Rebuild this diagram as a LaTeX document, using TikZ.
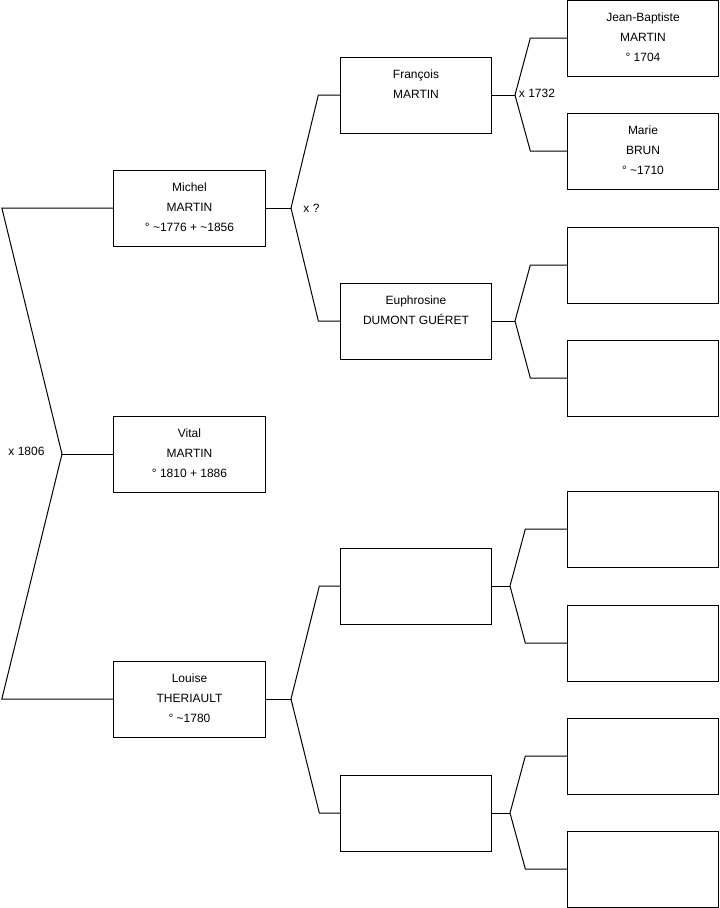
\documentclass[tikz,border=0pt]{standalone}
\usepackage{fontspec}
\setmainfont{Liberation Sans}
\usetikzlibrary{positioning}

\begin{document}
\begin{tikzpicture}[
  x=0.75pt, y=-0.75pt,
  font=\fontsize{9}{15}\selectfont, line width=0.75pt,
  pbox/.style={draw, minimum width=113.5pt, minimum height=57pt,
               inner sep=0pt, outer sep=0pt},
  ptext/.style={anchor=north, align=center, inner sep=0pt, yshift=-9pt},
  mar/.style={inner sep=1pt}
]
  \useasboundingbox (0,0) rectangle (719,908);

  % generation 1
  \node[pbox, label={[ptext]north:{Michel\\MARTIN\\° \textasciitilde1776 + \textasciitilde1856}}] (michel) at (189.5,208) {};
  \node[pbox, label={[ptext]north:{Vital\\MARTIN\\° 1810 + 1886}}] (vital) at (189.5,454) {};
  \node[pbox, label={[ptext]north:{Louise\\THERIAULT\\° \textasciitilde1780}}] (louise) at (189.5,699) {};

  % generation 2
  \node[pbox, label={[ptext]north:{François\\MARTIN}}] (francois) at (416,95) {};
  \node[pbox, label={[ptext]north:{Euphrosine\\DUMONT GUÉRET}}] (euphro) at (416,321) {};
  \node[pbox] (gp3) at (416,586) {};
  \node[pbox] (gp4) at (416,813) {};

  % generation 3
  \node[pbox, label={[ptext]north:{Jean-Baptiste\\MARTIN\\° 1704}}] (jb) at (643,38) {};
  \node[pbox, label={[ptext]north:{Marie\\BRUN\\° \textasciitilde1710}}] (marie) at (643,151) {};
  \node[pbox] (ggp3) at (643,265) {};
  \node[pbox] (ggp4) at (643,378) {};
  \node[pbox] (ggp5) at (643,529) {};
  \node[pbox] (ggp6) at (643,643) {};
  \node[pbox] (ggp7) at (643,756) {};
  \node[pbox] (ggp8) at (643,869) {};

  % marriage labels
  \node[mar] (m1806) at (26.5,451) {x 1806};
  \node[mar] (mq)    at (311.5,208) {x ?};
  \node[mar] (m1732) at (537,93) {x 1732};

  % forks
  \coordinate (fv) at (62,454);
  \coordinate (fm) at (291,208);
  \coordinate (fl) at (291,699);
  \coordinate (ff) at (515,95);
  \coordinate (fe) at (515,321);
  \coordinate (f3) at (510,586);
  \coordinate (f4) at (510,813);

  \draw (vital.west) -- (fv);
  \draw (michel.west) -- ++(-112,0) -- (fv);
  \draw (louise.west) -- ++(-112,0) -- (fv);

  \draw (michel.east) -- (fm);
  \draw (francois.west) -- ++(-22,0) -- (fm);
  \draw (euphro.west) -- ++(-22,0) -- (fm);

  \draw (louise.east) -- (fl);
  \draw (gp3.west) -- ++(-21,0) -- (fl);
  \draw (gp4.west) -- ++(-21,0) -- (fl);

  \draw (francois.east) -- (ff);
  \draw (jb.west) -- ++(-37,0) -- (ff);
  \draw (marie.west) -- ++(-37,0) -- (ff);

  \draw (euphro.east) -- (fe);
  \draw (ggp3.west) -- ++(-37,0) -- (fe);
  \draw (ggp4.west) -- ++(-37,0) -- (fe);

  \draw (gp3.east) -- (f3);
  \draw (ggp5.west) -- ++(-42,0) -- (f3);
  \draw (ggp6.west) -- ++(-42,0) -- (f3);

  \draw (gp4.east) -- (f4);
  \draw (ggp7.west) -- ++(-42,0) -- (f4);
  \draw (ggp8.west) -- ++(-42,0) -- (f4);
\end{tikzpicture}
\end{document}
